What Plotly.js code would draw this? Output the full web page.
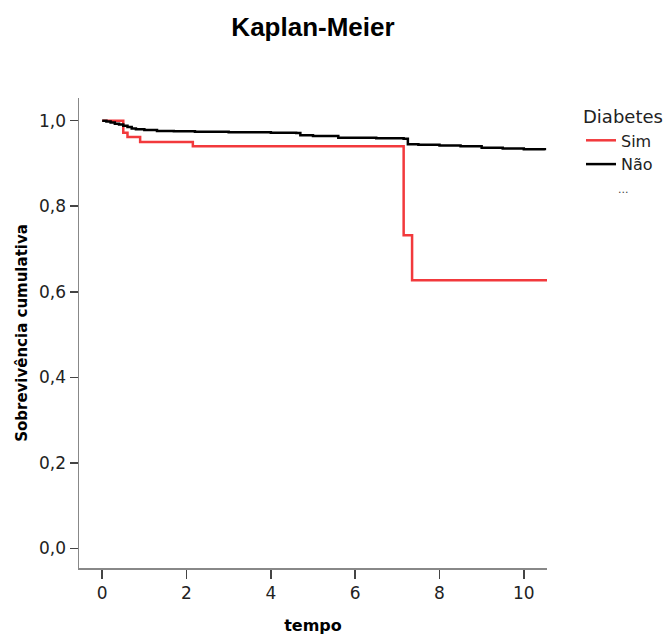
<!DOCTYPE html>
<html>
<head>
<meta charset="utf-8">
<script src="https://cdn.plot.ly/plotly-3.0.1.min.js"></script>
<style>html,body{margin:0;padding:0;background:#fff;}#chart{width:667px;height:635px;}</style>
</head>
<body>
<div id="chart"></div>
<script>
// Kaplan-Meier survival estimates
const simTime = [0, 0.5, 0.6, 0.9, 2.15, 7.15, 7.35, 10.55];
const simSurv = [1.0, 0.972, 0.962, 0.950, 0.940, 0.732, 0.627, 0.627];

const naoTime = [0, 0.1, 0.2, 0.3, 0.4, 0.5, 0.6, 0.7, 0.8, 1.0, 1.3, 1.7, 2.2, 3.0, 4.0, 4.6, 4.7, 5.0, 5.6, 6.5, 7.15, 7.25, 7.5, 8.0, 8.5, 9.0, 9.5, 10.0, 10.5];
const naoSurv = [1.0, 0.998, 0.996, 0.993, 0.991, 0.988, 0.985, 0.982, 0.980, 0.978, 0.976, 0.975, 0.974, 0.973, 0.972, 0.971, 0.966, 0.964, 0.960, 0.959, 0.958, 0.945, 0.944, 0.942, 0.940, 0.937, 0.935, 0.933, 0.931];

const seriesNames = ["Sim", "Não"];
const yTicks = [0, 0.2, 0.4, 0.6, 0.8, 1.0];
const xTicks = [0, 2, 4, 6, 8, 10];

const traces = [
  {x: simTime, y: simSurv, name: seriesNames[0], type: "scatter", mode: "lines",
   line: {shape: "hv", color: "#f2393c", width: 2.5}},
  {x: naoTime, y: naoSurv, name: seriesNames[1], type: "scatter", mode: "lines",
   line: {shape: "hv", color: "#000000", width: 2.5}}
];

const tickFont = {family: "DejaVu Sans", size: 17, color: "#222"};
const layout = {
  width: 667, height: 635,
  margin: {l: 79, r: 120, t: 98, b: 67, autoexpand: false},
  paper_bgcolor: "#fff", plot_bgcolor: "#fff",
  separators: ",.",
  title: {text: "<b>Kaplan-Meier</b>", font: {family: "Liberation Sans, Arial", size: 26, color: "#000"},
          x: 0.5, xref: "paper", xanchor: "center", y: 1 - 27/635, yanchor: "middle"},
  xaxis: {range: [-0.55, 10.55], tickvals: xTicks, tickformat: "d", ticks: "outside", ticklen: 9,
          tickcolor: "#444", tickwidth: 1.5, showline: true, linecolor: "#888", linewidth: 1.5,
          showgrid: false, zeroline: false, tickfont: tickFont,
          title: {text: "<b>tempo</b>", font: {family: "DejaVu Sans", size: 16, color: "#000"}, standoff: 20}},
  yaxis: {range: [-0.0456, 1.053], tickvals: yTicks, tickformat: ".1f", ticks: "outside", ticklen: 8,
          tickcolor: "#444", tickwidth: 1.5, showline: true, linecolor: "#888", linewidth: 1.5,
          showgrid: false, zeroline: false, tickfont: tickFont,
          title: {text: "<b>Sobrevivência cumulativa</b>", font: {family: "DejaVu Sans", size: 15, color: "#000"}, standoff: 8}},
  showlegend: true,
  legend: {xref: "container", yref: "container", x: 581/667, xanchor: "left", y: 1 - 100/635, yanchor: "top",
           bgcolor: "rgba(0,0,0,0)",
           font: {family: "DejaVu Sans", size: 16, color: "#222"},
           title: {text: "Diabetes", font: {family: "DejaVu Sans", size: 18, color: "#222"}},
           tracegroupgap: 0, itemwidth: 30},
  annotations: [{text: "...", xref: "paper", yref: "paper", x: (631-79)/468, y: (568-181)/470,
                 showarrow: false, font: {family: "DejaVu Sans", size: 11, color: "#444"}}]
};

Plotly.newPlot("chart", traces, layout, {displayModeBar: false, staticPlot: true});
</script>
</body>
</html>
